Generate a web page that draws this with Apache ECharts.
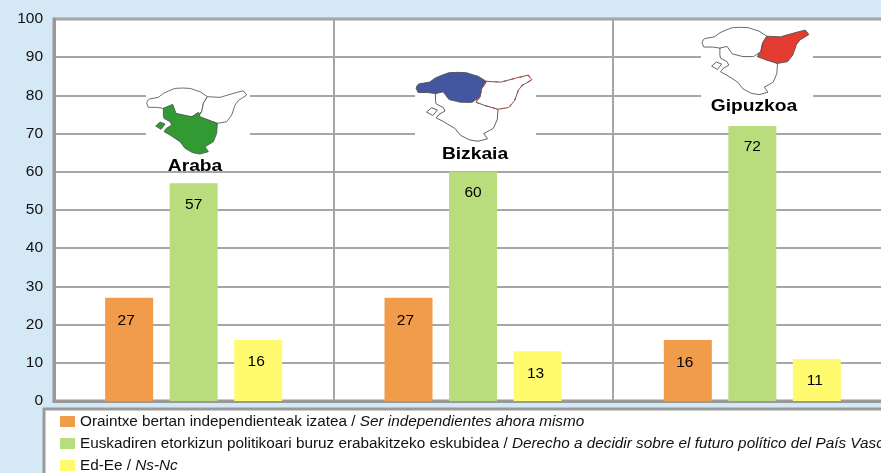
<!DOCTYPE html>
<html>
<head>
<meta charset="utf-8">
<title>Euskadi</title>
<script src="https://cdn.jsdelivr.net/npm/echarts@6/dist/echarts.min.js"></script>
<style>
html, body { margin: 0; padding: 0; background: #d5e8f5; overflow: hidden; }
/* wider than the window on purpose, the plot and legend run off the right edge */
#chart { width: 920px; height: 473px; }
</style>
</head>
<body>
<div id="chart"></div>
<script>
const categories = ['Araba', 'Bizkaia', 'Gipuzkoa']
const independent = [27, 27, 16]
const decide = [57, 60, 72]
const dontKnow = [16, 13, 11]
const yTicks = [0, 100]

const names = [
    ['Oraintxe bertan independienteak izatea', 'Ser independientes ahora mismo'],
    ['Euskadiren etorkizun politikoari buruz erabakitzeko eskubidea', 'Derecho a decidir sobre el futuro político del País Vasco'],
    ['Ed-Ee', 'Ns-Nc']
]

// hand traced outlines of the three provinces, used for the little maps
const outlineBizkaia = [[3,47],[6,38],[11,34],[38,29],[53,17],[70,9],[88,2],[110,1],[133,2],[150,8],[163,12],[185,27],[173,47],[168,72],[148,87],[118,87],[88,79],[73,57],[53,62],[33,59],[8,59]]
const outlineGipuzkoa = [[185,27],[223,29],[263,17],[293,9],[303,22],[288,32],[278,38],[268,52],[258,82],[243,102],[215,107],[183,97],[158,87],[168,72],[173,47]]
const outlineAraba = [[53,62],[81,50],[91,77],[138,87],[158,74],[163,87],[215,107],[213,137],[203,162],[178,177],[188,192],[163,199],[141,195],[118,182],[103,162],[73,142],[55,132],[62,122],[78,112],[73,102],[55,92],[53,82]]
const outlineEnclave = [[30,115],[43,103],[58,109],[46,125]]

const colors = ['#f09c4a', '#b9dc7c', '#fffa6e']
const fill = { Araba: '#339933', Bizkaia: '#4556a0', Gipuzkoa: '#e23b30' }
const font = '"Liberation Sans", Arial, sans-serif'

function province(points, color, top) {
    return {
        type: 'polygon',
        z: top ? 4 : 3,
        shape: { points: points },
        style: { fill: color, stroke: '#4a5456', lineWidth: 2.5, lineJoin: 'round' }
    }
}

function miniMap(name, x, y, sx, sy) {
    let parts = [
        province(outlineAraba, name == 'Araba' ? fill.Araba : '#fff', name == 'Araba'),
        province(outlineEnclave, name == 'Araba' ? fill.Araba : '#fff', name == 'Araba'),
        province(outlineBizkaia, name == 'Bizkaia' ? fill.Bizkaia : '#fff', name == 'Bizkaia'),
        province(outlineGipuzkoa, name == 'Gipuzkoa' ? fill.Gipuzkoa : '#fff', name == 'Gipuzkoa')
    ]
    if (name == 'Bizkaia') {
        // the source map has a dotted red edge around Gipuzkoa here
        parts.push({
            type: 'polygon',
            z: 4,
            shape: { points: outlineGipuzkoa },
            style: { fill: 'none', stroke: '#e23b30', lineWidth: 3, lineDash: [8, 14] }
        })
    }
    return { type: 'group', x: x, y: y, scaleX: sx, scaleY: sy, children: parts }
}

function backdrop(x, y, w, h) {
    return { type: 'rect', shape: { x: x, y: y, width: w, height: h }, style: { fill: '#fff' }, z: 1 }
}

function mapTitle(text, cx, cy) {
    return {
        type: 'text', x: cx, y: cy, z: 5, scaleX: 1.2,
        style: { text: text, fill: '#000', font: 'bold 16px ' + font, align: 'center', verticalAlign: 'middle' }
    }
}

function barSeries(i, values, labelOffset) {
    return {
        name: names[i].join(' / '),
        type: 'bar',
        data: values,
        barWidth: 48,
        barGap: '34.4%',
        itemStyle: { color: colors[i] },
        label: {
            show: true, position: 'insideTop', distance: 13, offset: labelOffset,
            color: '#000', fontFamily: font, fontSize: 15.5
        }
    }
}

var chart = echarts.init(document.getElementById('chart'))

var option = {
    animation: false,
    backgroundColor: '#d5e8f5',
    grid: {
        left: 54, right: 28, top: 19, bottom: 72,
        show: true, backgroundColor: '#fff', borderColor: '#999', borderWidth: 3
    },
    xAxis: {
        type: 'category',
        data: categories,
        axisTick: { show: false },
        axisLabel: { show: false },
        axisLine: { lineStyle: { color: '#999', width: 3 } },
        splitLine: { show: true, lineStyle: { color: '#a6a6a6', width: 2 } }
    },
    yAxis: {
        type: 'value',
        min: yTicks[0],
        max: yTicks[1],
        interval: 10,
        axisLine: { show: true, lineStyle: { color: '#999', width: 3 } },
        axisTick: { show: false },
        axisLabel: { color: '#111', fontFamily: font, fontSize: 15.5, margin: 11, padding: [4, 0, 0, 0] },
        splitLine: { lineStyle: { color: '#a6a6a6', width: 2 } }
    },
    legend: {
        orient: 'vertical',
        left: 60,
        top: 414,
        padding: 0,
        itemWidth: 15,
        itemHeight: 11,
        itemGap: 7,
        icon: 'rect',
        selectedMode: false,
        z: 5,
        formatter: function (name) {
            let p = name.split(' / ')
            return '{a|' + p[0] + ' / }{b|' + p[1] + '}'
        },
        textStyle: {
            rich: {
                a: { color: '#111', fontFamily: font, fontSize: 15.3 },
                b: { color: '#111', fontFamily: font, fontSize: 15.3, fontStyle: 'italic' }
            }
        }
    },
    series: [
        barSeries(0, independent, [-3, 2]),
        barSeries(1, decide, [0, 0]),
        barSeries(2, dontKnow, [-2, 1])
    ],
    graphic: [
        // legend box, runs off the right and bottom of the page
        {
            type: 'rect', z: 1,
            shape: { x: 44, y: 409, width: 900, height: 90 },
            style: { fill: '#fff', stroke: '#9a9a9a', lineWidth: 3 }
        },
        backdrop(146, 88, 104, 82),
        backdrop(415, 70, 121, 92),
        backdrop(701, 21, 112, 94),
        miniMap('Araba', 145.7, 87.7, 1 / 3, 1 / 3),
        miniMap('Bizkaia', 415, 72, 0.386, 0.348),
        miniMap('Gipuzkoa', 701, 27, 0.356, 0.34),
        mapTitle(categories[0], 195, 167),
        mapTitle(categories[1], 475, 155),
        mapTitle(categories[2], 754, 107)
    ]
}

chart.setOption(option)
</script>
</body>
</html>
